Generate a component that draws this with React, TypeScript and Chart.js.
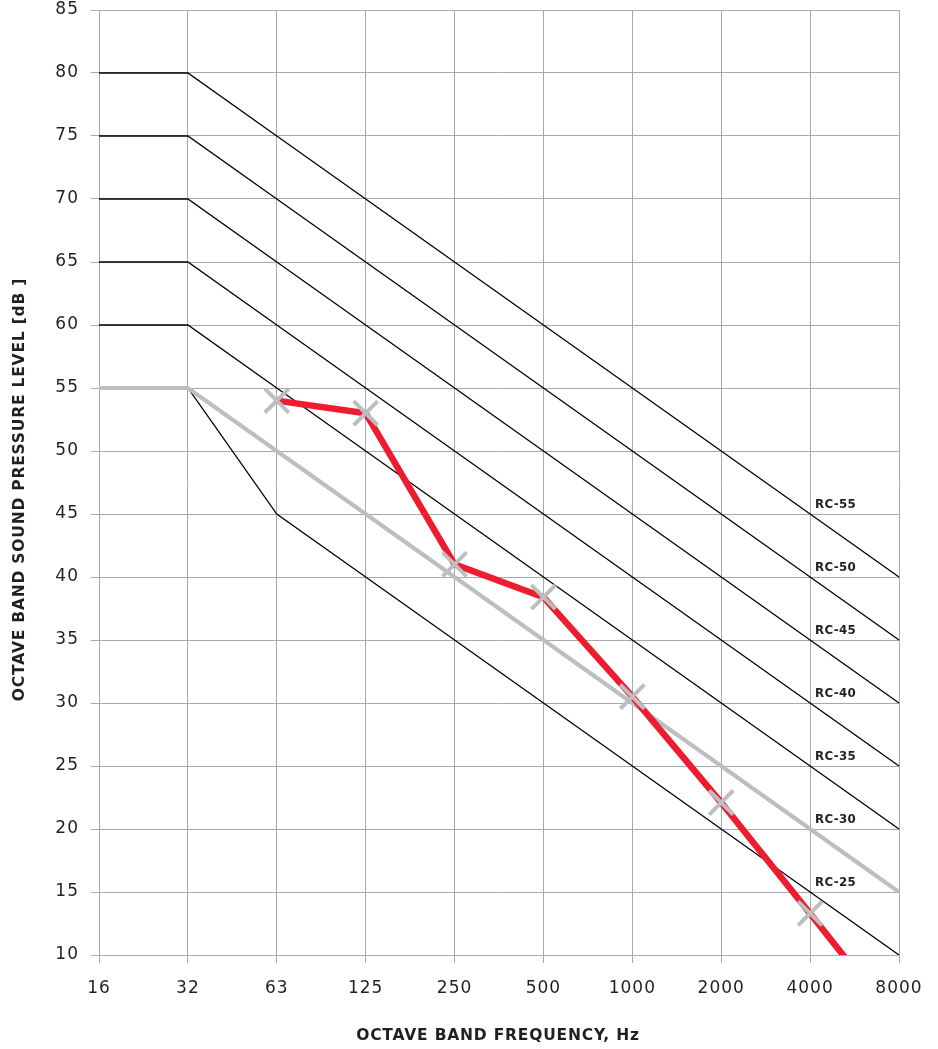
import React, { useEffect, useRef } from 'react';
import { Chart, registerables } from 'chart.js';

Chart.register(...registerables);

const frequencies = ['16', '32', '63', '125', '250', '500', '1000', '2000', '4000', '8000'];
const rc55 = [80, 80, 75, 70, 65, 60, 55, 50, 45, 40];
const rc50 = [75, 75, 70, 65, 60, 55, 50, 45, 40, 35];
const rc45 = [70, 70, 65, 60, 55, 50, 45, 40, 35, 30];
const rc40 = [65, 65, 60, 55, 50, 45, 40, 35, 30, 25];
const rc35 = [60, 60, 55, 50, 45, 40, 35, 30, 25, 20];
const rc30 = [55, 55, 50, 45, 40, 35, 30, 25, 20, 15];
const rc25 = [55, 55, 45, 40, 35, 30, 25, 20, 15, 10];
const measured = [null, null, 54, 53, 41, 38.4, 30.5, 22.1, 13.3, 4.4];
const measuredMarkers = [0, 0, 17, 17, 17, 17, 17, 17, 17, 0];

const rcCurves = [
  { name: 'RC-55', values: rc55 },
  { name: 'RC-50', values: rc50 },
  { name: 'RC-45', values: rc45 },
  { name: 'RC-40', values: rc40 },
  { name: 'RC-35', values: rc35 },
  { name: 'RC-30', values: rc30 },
  { name: 'RC-25', values: rc25 },
];
const labelAtCategory = 8;

const xTitle = 'OCTAVE BAND FREQUENCY, Hz';
const yTitle = 'OCTAVE BAND SOUND PRESSURE LEVEL [dB ]';

const GRID = '#A7A9AC';
const TEXT = '#231F20';
const GRAY = '#BCBEC0';
const RED = '#ED1C2E';
const FONT = '"DejaVu Sans"';

const overlayPlugin = {
  id: 'overlay',
  beforeDraw(chart: any) {
    chart.ctx.letterSpacing = '1px';
  },
  afterDraw(chart: any) {
    const { ctx, chartArea, scales } = chart;
    const x = scales.x;
    const y = scales.y;
    ctx.save();
    ctx.fillStyle = TEXT;
    ctx.letterSpacing = '0.3px';
    ctx.font = `bold 11.8px ${FONT}`;
    ctx.textAlign = 'left';
    ctx.textBaseline = 'middle';
    rcCurves.forEach((c) => {
      const px = x.getPixelForValue(labelAtCategory) + 5;
      const py = y.getPixelForValue(c.values[labelAtCategory]) - 9;
      ctx.fillText(c.name, px, py);
    });
    ctx.letterSpacing = '0.8px';
    ctx.font = `bold 15.5px ${FONT}`;
    ctx.textAlign = 'center';
    ctx.fillText(xTitle, (chartArea.left + chartArea.right) / 2 - 1, chartArea.bottom + 81);
    ctx.translate(20, (chartArea.top + chartArea.bottom) / 2 + 7);
    ctx.rotate(-Math.PI / 2);
    ctx.fillText(yTitle, 0, 0);
    ctx.restore();
  },
};

export default function App() {
  const ref = useRef<HTMLCanvasElement | null>(null);
  useEffect(() => {
    document.body.style.margin = '0';
    const black = [rc55, rc50, rc45, rc40, rc35, rc25].map((d) => ({
      data: d,
      borderColor: '#000000',
      borderWidth: 1.3,
      pointRadius: 0,
      order: 3,
    }));
    const chart = new Chart(ref.current as HTMLCanvasElement, {
      type: 'line',
      data: {
        labels: frequencies,
        datasets: [
          {
            data: measured as any,
            borderColor: RED,
            borderWidth: 6.5,
            pointStyle: 'crossRot',
            pointRadius: measuredMarkers,
            pointBorderColor: GRAY,
            pointBorderWidth: 4,
            pointBackgroundColor: GRAY,
            clip: 0,
            order: 1,
          } as any,
          {
            data: rc30,
            borderColor: GRAY,
            borderWidth: 4,
            pointRadius: 0,
            order: 2,
          },
          ...black,
        ],
      },
      options: {
        animation: false,
        responsive: false,
        maintainAspectRatio: false,
        layout: { padding: { top: 10, right: 39, left: 0, bottom: 0 } },
        plugins: { legend: { display: false }, tooltip: { enabled: false } },
        elements: { line: { tension: 0 } },
        scales: {
          x: {
            type: 'category',
            offset: false,
            grid: { color: GRID, lineWidth: 1, tickLength: 8, drawTicks: true },
            border: { color: GRID },
            ticks: { color: TEXT, font: { family: FONT, size: 17 }, padding: 15, maxRotation: 0, autoSkip: false },
            afterFit: (s: any) => { s.height = 94; s.paddingRight = 0; s.paddingLeft = 0; },
          },
          y: {
            min: 10,
            max: 85,
            grid: { color: GRID, lineWidth: 1, tickLength: 8, drawTicks: true },
            border: { color: GRID },
            ticks: { stepSize: 5, color: TEXT, font: { family: FONT, size: 17 }, padding: 12 },
            afterFit: (s: any) => { s.width = 99; s.paddingTop = 0; s.paddingBottom = 0; },
          },
        },
      },
      plugins: [overlayPlugin],
    });
    return () => chart.destroy();
  }, []);
  return (
    <div style={{ width: 938, height: 1049 }}>
      <canvas ref={ref} width={938} height={1049} style={{ display: 'block' }} />
    </div>
  );
}
